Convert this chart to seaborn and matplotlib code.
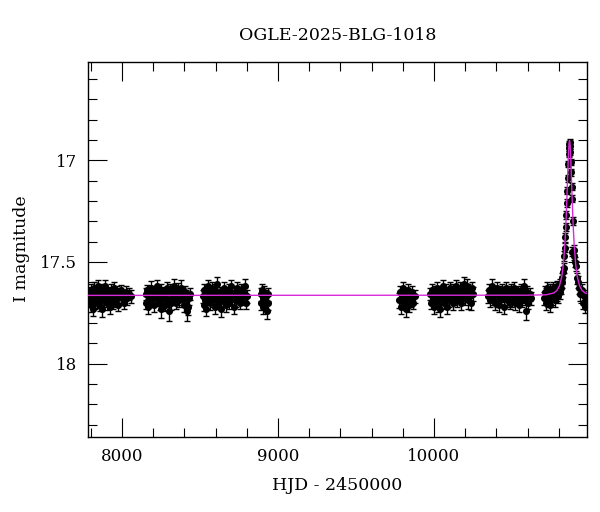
import numpy as np
import pandas as pd
import matplotlib
matplotlib.use("Agg")
import matplotlib.pyplot as plt
import seaborn as sns
from matplotlib.ticker import MultipleLocator, FuncFormatter

# ---------------- data (HJD-2450000, I mag, error) ----------------
season_2017 = [(7790,17.69,.032),(7795,17.65,.028),(7799,17.71,.035),(7803,17.64,.030),(7808,17.68,.027),
               (7812,17.73,.038),(7816,17.66,.029),(7821,17.63,.031),(7825,17.70,.033),(7830,17.67,.026),
               (7835,17.65,.030),(7839,17.69,.036),(7844,17.62,.029),(7849,17.68,.031),(7853,17.66,.027),
               (7858,17.71,.034),(7863,17.64,.030),(7868,17.67,.028),(7873,17.73,.040),(7878,17.65,.029),
               (7883,17.69,.032),(7888,17.66,.027),(7894,17.62,.033),(7899,17.68,.030),(7905,17.70,.035),
               (7910,17.65,.028),(7916,17.67,.031),(7921,17.72,.036),(7927,17.64,.029),(7933,17.68,.030),
               (7939,17.66,.027),(7945,17.70,.033),(7951,17.63,.031),(7957,17.67,.028),(7963,17.69,.034),
               (7970,17.65,.029),(7977,17.71,.032),(7984,17.66,.030),(7991,17.64,.028),(7999,17.68,.031),
               (8007,17.67,.029),(8016,17.70,.033),(8025,17.65,.030),(8035,17.68,.032),(8046,17.66,.029),
               (8057,17.67,.034)]
season_2018 = [(8152,17.66,.030),(8157,17.70,.033),(8162,17.64,.028),(8167,17.72,.037),(8172,17.67,.029),
               (8177,17.65,.031),(8182,17.69,.030),(8188,17.63,.034),(8193,17.68,.027),(8199,17.66,.030),
               (8205,17.71,.035),(8211,17.65,.029),(8217,17.67,.031),(8223,17.62,.033),(8229,17.69,.028),
               (8235,17.66,.030),(8241,17.70,.036),(8247,17.64,.029),(8253,17.73,.045),(8259,17.67,.030),
               (8265,17.65,.028),(8271,17.68,.032),(8277,17.71,.034),(8283,17.66,.029),(8289,17.63,.031),
               (8295,17.69,.030),(8301,17.74,.050),(8307,17.64,.033),(8313,17.70,.035),(8319,17.66,.029),
               (8325,17.68,.031),(8331,17.62,.034),(8337,17.67,.028),(8343,17.65,.030),(8349,17.70,.033),
               (8355,17.66,.029),(8361,17.64,.036),(8367,17.69,.031),(8373,17.67,.028),(8379,17.63,.040),
               (8385,17.68,.030),(8391,17.66,.032),(8397,17.71,.035),(8403,17.65,.029),(8409,17.67,.031),
               (8415,17.74,.050),(8421,17.72,.042),(8427,17.68,.033),(8433,17.66,.030)]
season_2019 = [(8518,17.67,.031),(8523,17.71,.034),(8528,17.64,.029),(8533,17.69,.032),(8539,17.73,.038),
               (8544,17.66,.030),(8549,17.62,.031),(8555,17.68,.028),(8560,17.65,.030),(8566,17.70,.035),
               (8571,17.67,.029),(8577,17.63,.033),(8582,17.69,.030),(8588,17.66,.028),(8594,17.72,.036),
               (8599,17.64,.031),(8605,17.68,.029),(8611,17.61,.034),(8617,17.67,.030),(8623,17.70,.032),
               (8629,17.65,.028),(8635,17.73,.040),(8641,17.66,.030),(8647,17.69,.033),(8653,17.63,.029),
               (8659,17.67,.031),(8665,17.71,.035),(8671,17.65,.028),(8677,17.68,.030),(8683,17.64,.032),
               (8689,17.70,.034),(8695,17.66,.029),(8701,17.62,.031),(8707,17.68,.030),(8713,17.67,.027),
               (8719,17.72,.037),(8725,17.65,.030),(8731,17.69,.032),(8737,17.63,.029),(8743,17.67,.031),
               (8750,17.66,.028),(8757,17.70,.033),(8764,17.64,.030),(8771,17.68,.031),(8778,17.65,.029),
               (8786,17.62,.034),(8794,17.70,.032),(8802,17.67,.030)]
season_2019b = [(8889,17.66,.032),(8893,17.70,.035),(8897,17.64,.030),(8902,17.68,.033),(8906,17.72,.038),
                (8911,17.65,.031),(8916,17.69,.034),(8921,17.67,.030),(8927,17.74,.040),(8933,17.66,.033),
                (8938,17.70,.036)]
season_2022 = [(9777,17.69,.035),(9783,17.65,.031),(9789,17.72,.038),(9795,17.67,.030),(9801,17.63,.033),
               (9807,17.70,.034),(9813,17.66,.029),(9819,17.73,.040),(9825,17.68,.031),(9831,17.64,.032),
               (9838,17.71,.036),(9845,17.67,.030),(9852,17.69,.033),(9860,17.65,.031),(9868,17.70,.034),
               (9876,17.67,.032)]
season_2023 = [(9976,17.66,.030),(9981,17.70,.033),(9987,17.64,.029),(9993,17.68,.031),(9999,17.72,.036),
               (10005,17.65,.030),(10011,17.69,.032),(10017,17.63,.029),(10023,17.67,.031),(10029,17.71,.035),
               (10035,17.66,.028),(10041,17.73,.039),(10047,17.65,.030),(10053,17.68,.032),(10059,17.62,.031),
               (10065,17.70,.034),(10071,17.67,.029),(10077,17.64,.031),(10083,17.72,.037),(10089,17.66,.030),
               (10095,17.69,.032),(10101,17.63,.030),(10107,17.67,.028),(10113,17.65,.033),(10119,17.70,.035),
               (10125,17.64,.029),(10131,17.68,.031),(10137,17.66,.030),(10143,17.62,.032),(10149,17.69,.034),
               (10155,17.65,.029),(10161,17.67,.031),(10167,17.63,.033),(10173,17.70,.036),(10179,17.66,.030),
               (10185,17.64,.031),(10191,17.61,.034),(10197,17.68,.032),(10203,17.65,.030),(10209,17.62,.035),
               (10215,17.69,.040),(10221,17.64,.031),(10228,17.67,.033),(10235,17.70,.038),(10242,17.63,.032),
               (10249,17.66,.034)]
season_2024 = [(10348,17.67,.031),(10353,17.64,.029),(10359,17.69,.033),(10365,17.66,.030),(10371,17.62,.034),
               (10377,17.68,.031),(10383,17.65,.029),(10389,17.70,.035),(10395,17.67,.030),(10401,17.63,.032),
               (10407,17.69,.031),(10413,17.66,.029),(10419,17.71,.036),(10425,17.65,.030),(10431,17.68,.032),
               (10437,17.64,.031),(10443,17.67,.028),(10449,17.72,.038),(10455,17.66,.030),(10461,17.63,.033),
               (10467,17.69,.031),(10473,17.65,.029),(10479,17.68,.032),(10485,17.70,.034),(10491,17.66,.030),
               (10497,17.64,.031),(10503,17.69,.033),(10509,17.67,.029),(10515,17.63,.032),(10521,17.70,.035),
               (10527,17.66,.030),(10533,17.68,.031),(10539,17.65,.029),(10545,17.71,.036),(10551,17.67,.030),
               (10557,17.64,.033),(10563,17.69,.031),(10569,17.66,.030),(10575,17.62,.035),(10581,17.68,.032),
               (10587,17.74,.045),(10593,17.67,.031),(10599,17.65,.033),(10606,17.70,.034),(10613,17.66,.031),
               (10620,17.68,.033)]
season_2025 = [(10706,17.68,.032),(10711,17.65,.029),(10716,17.70,.035),(10721,17.66,.030),(10726,17.63,.031),
               (10731,17.69,.033),(10736,17.67,.028),(10741,17.64,.030),(10746,17.71,.036),(10751,17.66,.029),
               (10756,17.68,.031),(10761,17.63,.030),(10766,17.67,.028),(10771,17.65,.032),(10776,17.69,.030),
               (10781,17.64,.029),(10786,17.66,.031),(10791,17.62,.028),(10796,17.67,.030),(10801,17.63,.029),
               (10806,17.65,.031),(10811,17.61,.028),(10816,17.63,.030),(10820,17.58,.027),(10824,17.60,.029),
               (10828,17.55,.026),(10832,17.53,.025),(10836,17.47,.024),(10840,17.43,.022),(10843,17.38,.021),
               (10846,17.33,.020),(10849,17.27,.019),(10852,17.21,.018),(10855,17.15,.017),(10858,17.09,.016),
               (10861,17.02,.015),(10863,16.97,.015),(10865,16.94,.014),(10867,16.92,.014),(10869,16.91,.014),
               (10871,16.93,.014),(10873,16.96,.015),(10876,17.01,.015),(10879,17.06,.016),(10882,17.13,.017),
               (10885,17.19,.018),(10888,17.45,.022),(10892,17.30,.020),(10896,17.47,.023),(10900,17.44,.022),
               (10905,17.50,.024),(10910,17.52,.025),(10916,17.58,.027),(10922,17.60,.029),(10930,17.63,.030),
               (10938,17.66,.031),(10946,17.64,.030),(10954,17.70,.033),(10962,17.67,.031),(10970,17.72,.034),
               (10978,17.68,.032)]

# model light curve
model_t = [7780, 10600, 10719, 10769, 10789, 10804, 10819, 10829, 10839, 10844, 10849, 10854, 10857,
           10860, 10863, 10866, 10869, 10872, 10875, 10878, 10881, 10884, 10889, 10894, 10899, 10909,
           10919, 10934, 10949, 10969, 10990]
model_mag = [17.665, 17.664, 17.662, 17.653, 17.640, 17.619, 17.574, 17.516, 17.417, 17.345, 17.255,
             17.148, 17.080, 17.013, 16.956, 16.917, 16.903, 16.917, 16.956, 17.013, 17.080, 17.148,
             17.255, 17.345, 17.417, 17.516, 17.574, 17.619, 17.640, 17.653, 17.657]

title = "OGLE-2025-BLG-1018"
xlabel = "HJD - 2450000"
ylabel = "I magnitude"

# ---------------- build tables ----------------
rows = season_2017 + season_2018 + season_2019 + season_2019b + season_2022 + season_2023 + season_2024 + season_2025
df = pd.DataFrame(rows, columns=["hjd", "mag", "err"])
mdf = pd.DataFrame({"hjd": model_t, "mag": model_mag})

sns.set_theme(style="ticks")
plt.rcParams['font.family'] = ['DejaVu Serif']
plt.rcParams['mathtext.fontset'] = 'dejavuserif'

fig = plt.figure(figsize=(6, 5.12), dpi=100)
ax = fig.add_axes([88/600, 1 - 436.7/512, (587.3 - 88)/600, (436.7 - 62)/512])

ax.errorbar(df["hjd"], df["mag"], yerr=df["err"], fmt='none', ecolor='black',
            elinewidth=1.0, capsize=2.0, capthick=1.0, zorder=2)
sns.scatterplot(data=df, x="hjd", y="mag", color='black', s=26, linewidth=0, ax=ax, zorder=3)
sns.lineplot(data=mdf, x="hjd", y="mag", color='#d92ad9', linewidth=1.0, sort=False,
             estimator=None, ax=ax, zorder=4)

ax.set_xlim(7782, 10983)
ax.set_ylim(18.36, 16.517)

ax.xaxis.set_major_locator(MultipleLocator(1000))
ax.xaxis.set_minor_locator(MultipleLocator(200))
ax.yaxis.set_major_locator(MultipleLocator(0.5))
ax.yaxis.set_minor_locator(MultipleLocator(0.1))
fmt = FuncFormatter(lambda v, p: f"{v:g}")
ax.xaxis.set_major_formatter(fmt)
ax.yaxis.set_major_formatter(fmt)

ax.tick_params(which='both', direction='in', top=True, right=True, color='black', width=0.8,
               labelsize=12, labelcolor='black')
ax.tick_params(which='major', length=13.5, pad=8)
ax.tick_params(which='minor', length=6.5)
for s in ax.spines.values():
    s.set_color('black')
    s.set_linewidth(1.0)

ax.set_xlabel("")
ax.set_ylabel("")
fig.text(337.5/600, 1 - 35/512, title, ha='center', va='center', fontsize=12.5, color='black')
fig.text(337.5/600, 1 - 485/512, xlabel, ha='center', va='center', fontsize=12.5, color='black')
fig.text(21/600, 1 - 249/512, ylabel, ha='center', va='center', rotation=90, fontsize=12.5, color='black')

fig.savefig("out.png", dpi=100)
